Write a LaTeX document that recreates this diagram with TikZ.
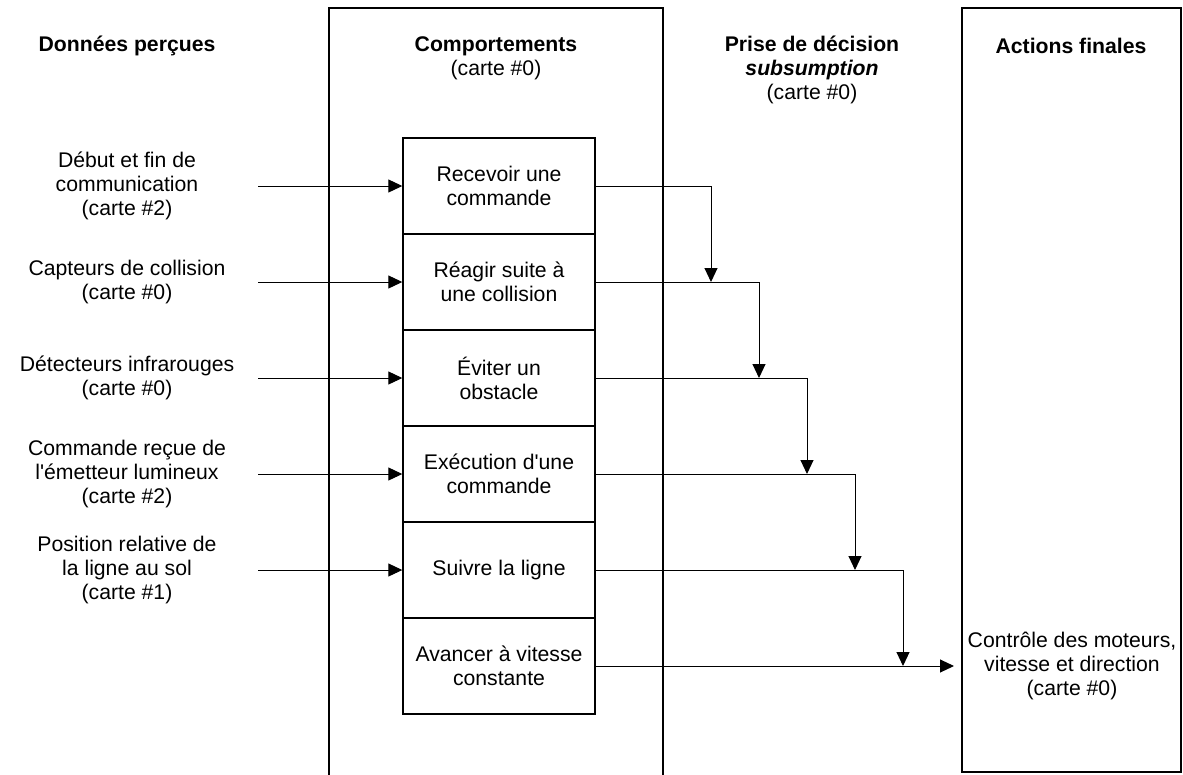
\documentclass[tikz,border=0pt]{standalone}
\usepackage{fontspec}
\newfontfamily\arial{Liberation Sans}
\usetikzlibrary{arrows.meta,positioning,calc}

\begin{document}
\begin{tikzpicture}[x=1pt,y=-1pt,>={Triangle[length=14pt,width=13pt]},
    txt/.style={align=center,inner sep=0pt,font=\arial\fontsize{21.2}{24}\selectfont},
    head/.style={txt,font=\arial\fontsize{21.2}{24}\selectfont\bfseries},
    beh/.style={draw,line width=1.4pt,minimum width=192pt,minimum height=96pt,txt},
    col/.style={line width=2pt},
    link/.style={->,line width=1pt}]
  \useasboundingbox (0,0) rectangle (1183,774);
  \draw[col] (329,776) -- (329,8) -- (663,8) -- (663,776);
  \draw[col] (962,8) rectangle (1181,772);
  \node[head] (hin) at (127,46) {Données perçues};
  \node[txt] (hbeh) at (496,58) {\textbf{Comportements}\\(carte \#0)};
  \node[txt] (hdec) at (812,70) {\textbf{Prise de décision}\\\textbf{\textit{subsumption}}\\(carte \#0)};
  \node[head] (hact) at (1071,46) {Actions finales};
  \foreach \i/\t in {1/{Recevoir une\\commande},2/{Réagir suite à\\une collision},
      3/{Éviter un\\obstacle},4/{Exécution d'une\\commande},5/{Suivre la ligne},
      6/{Avancer à vitesse\\constante}}
    \node[beh] (b\i) at (499,{90+96*\i}) {\t};
  \foreach \i/\t in {1/{Début et fin de\\communication\\(carte \#2)},
      2/{Capteurs de collision\\(carte \#0)},3/{Détecteurs infrarouges\\(carte \#0)},
      4/{Commande reçue de\\l'émetteur lumineux\\(carte \#2)},
      5/{Position relative de\\la ligne au sol\\(carte \#1)}}{
    \node[txt] (d\i) at (127,{90+96*\i}) {\t};
    \coordinate (s\i) at (258,{90+96*\i});
    \draw[link] (s\i) -- (b\i.west);
  }
  \foreach \i/\n in {1/2,2/3,3/4,4/5,5/6}{
    \coordinate (j\i) at ({663+48*\i},{90+96*\n});
    \draw[link] (b\i.east) -| (j\i);
  }
  \node[txt] (fin) at (1072,666) {Contrôle des moteurs,\\vitesse et direction\\(carte \#0)};
  \coordinate (e) at (954,666);
  \draw[link] (b6.east) -- (e);
\end{tikzpicture}
\end{document}
